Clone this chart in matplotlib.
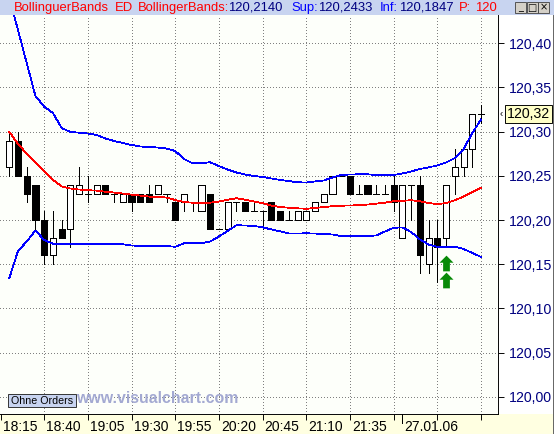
import matplotlib
matplotlib.use('Agg')
import matplotlib.pyplot as plt
from matplotlib.path import Path
from matplotlib.patches import Rectangle
import matplotlib.transforms as mtransforms

plt.rcParams['font.family'] = ['Liberation Sans', 'DejaVu Sans']

W, H = 554, 434

# ---------------- data ----------------
bar_index = list(range(1, 56))
opens = [120.26, 120.29, 120.25, 120.24, 120.20, 120.16, 120.19, 120.19, 120.23, 120.23,
         120.23, 120.24, 120.23, 120.22, 120.23, 120.23, 120.23, 120.23, 120.23, 120.22,
         120.22, 120.22, 120.21, 120.23, 120.19, 120.19, 120.22, 120.22, 120.21, 120.21,
         120.22, 120.21, 120.20, 120.20, 120.20, 120.21, 120.22, 120.23, 120.25, 120.25,
         120.23, 120.24, 120.23, 120.23, 120.24, 120.18, 120.24, 120.24, 120.15, 120.18,
         120.18, 120.25, 120.26, 120.28, 120.32]
highs = [120.30, 120.30, 120.26, 120.24, 120.21, 120.21, 120.20, 120.24, 120.26, 120.25,
         120.24, 120.24, 120.23, 120.23, 120.23, 120.23, 120.24, 120.24, 120.23, 120.22,
         120.23, 120.22, 120.24, 120.23, 120.19, 120.22, 120.22, 120.22, 120.22, 120.21,
         120.22, 120.21, 120.21, 120.21, 120.21, 120.22, 120.23, 120.25, 120.25, 120.25,
         120.24, 120.24, 120.24, 120.24, 120.25, 120.24, 120.24, 120.25, 120.20, 120.20,
         120.24, 120.28, 120.28, 120.32, 120.33]
lows = [120.25, 120.25, 120.22, 120.19, 120.15, 120.15, 120.18, 120.17, 120.23, 120.22,
        120.23, 120.23, 120.22, 120.22, 120.21, 120.22, 120.22, 120.23, 120.22, 120.20,
        120.21, 120.21, 120.21, 120.19, 120.19, 120.19, 120.21, 120.21, 120.21, 120.19,
        120.20, 120.20, 120.20, 120.20, 120.20, 120.21, 120.22, 120.23, 120.25, 120.23,
        120.23, 120.23, 120.23, 120.23, 120.21, 120.18, 120.20, 120.14, 120.14, 120.13,
        120.17, 120.23, 120.25, 120.26, 120.31]
closes = [120.29, 120.25, 120.23, 120.20, 120.16, 120.18, 120.18, 120.24, 120.24, 120.23,
          120.24, 120.23, 120.23, 120.23, 120.22, 120.22, 120.22, 120.24, 120.23, 120.20,
          120.23, 120.22, 120.24, 120.19, 120.19, 120.22, 120.22, 120.21, 120.21, 120.21,
          120.20, 120.20, 120.20, 120.21, 120.21, 120.22, 120.23, 120.25, 120.25, 120.23,
          120.23, 120.23, 120.23, 120.23, 120.22, 120.24, 120.24, 120.16, 120.18, 120.17,
          120.24, 120.26, 120.28, 120.32, 120.32]

upper_band = [120.4524, 120.4150, 120.3777, 120.3404, 120.3283, 120.3212, 120.3042, 120.2997,
              120.2989, 120.2980, 120.2963, 120.2923, 120.2895, 120.2872, 120.2850, 120.2833,
              120.2827, 120.2821, 120.2810, 120.2782, 120.2691, 120.2643, 120.2646, 120.2654,
              120.2612, 120.2572, 120.2538, 120.2516, 120.2499, 120.2488, 120.2471, 120.2454,
              120.2442, 120.2428, 120.2425, 120.2437, 120.2448, 120.2482, 120.2510, 120.2516,
              120.2518, 120.2518, 120.2510, 120.2510, 120.2510, 120.2527, 120.2550, 120.2578,
              120.2597, 120.2618, 120.2652, 120.2702, 120.2804, 120.2985, 120.3138]
middle_band = [120.3000, 120.2861, 120.2753, 120.2657, 120.2555, 120.2457, 120.2380, 120.2357,
               120.2346, 120.2338, 120.2334, 120.2321, 120.2312, 120.2301, 120.2288, 120.2277,
               120.2266, 120.2261, 120.2256, 120.2227, 120.2205, 120.2197, 120.2197, 120.2197,
               120.2210, 120.2231, 120.2247, 120.2231, 120.2210, 120.2191, 120.2165, 120.2148,
               120.2140, 120.2133, 120.2128, 120.2137, 120.2148, 120.2157, 120.2163, 120.2165,
               120.2169, 120.2176, 120.2186, 120.2197, 120.2214, 120.2218, 120.2225, 120.2213,
               120.2193, 120.2180, 120.2193, 120.2224, 120.2267, 120.2318, 120.2367]
lower_band = [120.1342, 120.1650, 120.1758, 120.1882, 120.1775, 120.1733, 120.1726, 120.1726,
              120.1726, 120.1726, 120.1726, 120.1726, 120.1726, 120.1726, 120.1713, 120.1707,
              120.1707, 120.1707, 120.1707, 120.1698, 120.1738, 120.1738, 120.1738, 120.1758,
              120.1815, 120.1877, 120.1942, 120.1939, 120.1933, 120.1919, 120.1894, 120.1874,
              120.1848, 120.1848, 120.1851, 120.1848, 120.1843, 120.1837, 120.1820, 120.1820,
              120.1820, 120.1820, 120.1826, 120.1871, 120.1914, 120.1916, 120.1865, 120.1781,
              120.1724, 120.1696, 120.1696, 120.1699, 120.1673, 120.1628, 120.1583]

signal_x = [51, 51]
signal_y = [120.1516, 120.1317]

y_ticks = [120.00, 120.05, 120.10, 120.15, 120.20, 120.25, 120.30, 120.35, 120.40]
x_tick_pos = [0, 5, 10, 15, 20, 25, 30, 35, 40, 45, 50, 55]
x_label_pos = [0, 5, 10, 15, 20, 25, 30, 35, 40, 46]
x_labels = ["18:15", "18:40", "19:05", "19:30", "19:55", "20:20", "20:45", "21:10", "21:35", "27.01.06"]
date_tick = 46

title_parts = [("BollinguerBands", "#FF0000", 14), ("ED", "#FF0000", 115),
               ("BollingerBands:", "#FF0000", 138), ("120,2140", "#000080", 228),
               ("Sup:", "#0000FF", 291), ("120,2433", "#000080", 318),
               ("Inf:", "#0000FF", 380), ("120,1847", "#000080", 399),
               ("P:", "#FF0000", 459), ("120,06", "#FF0000", 475)]

# ---------------- figure ----------------
fig = plt.figure(figsize=(W / 100, H / 100), dpi=100)
fig.patch.set_facecolor('white')

def fx(px):
    return px / W

def fy(py):
    return 1 - py / H

LW = 0.68   # ~1 px
BLW = 0.55  # band lines

ax_left, ax_right, ax_top, ax_bottom = 0, 498, 15, 414
ax = fig.add_axes([fx(ax_left), fy(ax_bottom), fx(ax_right - ax_left), (ax_bottom - ax_top) / H])
ax.set_facecolor('#FDFFFA')

px_per_bar = 8.737
x0 = 0.5
ax.set_xlim((ax_left - x0) / px_per_bar, (ax_right - x0) / px_per_bar)
ppu = 884.0
ax.set_ylim(120.30 - (ax_bottom - 131.7) / ppu, 120.30 + (131.7 - ax_top) / ppu)

# grid
grid_kw = dict(color='#808080', lw=LW, linestyle=(0, (1, 3)), zorder=0.5, antialiased=False)
for v in y_ticks:
    ax.axhline(v, **grid_kw)
for p in x_tick_pos[1:]:
    ax.axvline(p, **grid_kw)

# candles
bw = 0.70
for i, o, h, l, c in zip(bar_index, opens, highs, lows, closes):
    top = max(o, c)
    bot = min(o, c)
    if h > top:
        ax.vlines(i, top, h, color='black', lw=LW, zorder=2, antialiased=False)
    if l < bot:
        ax.vlines(i, l, bot, color='black', lw=LW, zorder=2, antialiased=False)
    if c == o:
        ax.hlines(c, i - bw / 2, i + bw / 2, color='black', lw=LW, zorder=2, antialiased=False)
    else:
        fc = 'white' if c > o else 'black'
        ax.add_patch(Rectangle((i - bw / 2, bot), bw, top - bot, facecolor=fc,
                               edgecolor='black', lw=LW, zorder=2, antialiased=False))

# bands
ax.plot(bar_index, upper_band, color='#0000FF', lw=BLW, zorder=3, antialiased=False)
ax.plot(bar_index, lower_band, color='#0000FF', lw=BLW, zorder=3, antialiased=False)
ax.plot(bar_index, middle_band, color='#FF0000', lw=BLW, zorder=3, antialiased=False)

# signal arrows
arrow_verts = [(0, 0.5), (0.445, 0.05), (0.215, 0.05), (0.215, -0.5), (-0.215, -0.5),
               (-0.215, 0.05), (-0.445, 0.05), (0, 0.5)]
arrow = Path(arrow_verts, [Path.MOVETO] + [Path.LINETO] * 6 + [Path.CLOSEPOLY])
ax.plot(signal_x, signal_y, linestyle='none', marker=arrow, markersize=11.3,
        color='#088A08', markeredgewidth=0, zorder=4)

# axes styling
for s in ['top', 'left']:
    ax.spines[s].set_visible(False)
ax.spines['right'].set_color('black')
ax.spines['right'].set_linewidth(LW)
ax.spines['bottom'].set_color('black')
ax.spines['bottom'].set_linewidth(LW)

ax.yaxis.tick_right()
ax.set_yticks(y_ticks)
ax.set_yticklabels([f"{v:.2f}".replace('.', ',') for v in y_ticks])
ax.tick_params(axis='y', direction='out', length=4, width=LW, colors='black',
               labelcolor='#000080', labelsize=10.2, pad=4)

ax.set_xticks(x_tick_pos)
ax.set_xticklabels([''] * len(x_tick_pos))
ax.tick_params(axis='x', direction='out', length=4.5, width=LW, colors='black')

blend = mtransforms.blended_transform_factory(ax.transData, fig.transFigure)
ax.plot([date_tick, date_tick], [fy(ax_bottom), fy(ax_bottom + 9)], color='black', lw=LW,
        transform=blend, clip_on=False, antialiased=False)
for p, lab in zip(x_label_pos, x_labels):
    ax.text(p + 2 / px_per_bar, fy(420), lab, transform=blend, ha='left', va='top',
            fontsize=10, color='black', clip_on=False)

# last price label
ytrans = mtransforms.blended_transform_factory(fig.transFigure, ax.transData)
ax.text(fx(507), closes[-1], f"{closes[-1]:.2f}".replace('.', ','), transform=ytrans,
        ha='left', va='center', fontsize=10.2, color='black', clip_on=False, zorder=10,
        bbox=dict(boxstyle='square,pad=0.12', fc='#FFFFC8', ec='black', lw=LW))
ax.text(fx(500), closes[-1], '\u2039', transform=ytrans, ha='left', va='center',
        fontsize=7, color='black', clip_on=False)

# bottom strip
fig.add_artist(Rectangle((0, 0), 1, (H - ax_bottom) / H, transform=fig.transFigure,
                         facecolor='#FFFFE1', edgecolor='none', zorder=-5))
# right border
fig.add_artist(plt.Line2D([fx(552.5), fx(552.5)], [0, fy(15)], transform=fig.transFigure,
                          color='#606060', lw=LW))

# title bar
fig.add_artist(Rectangle((0, fy(15)), 1, 15 / H, transform=fig.transFigure,
                         facecolor='#C8D4F0', edgecolor='none', zorder=1))
for txt, col, xp in title_parts:
    fig.text(fx(xp), fy(7.6), txt, color=col, fontsize=9.4, ha='left', va='center', zorder=2)
fig.add_artist(Rectangle((fx(498), fy(15)), fx(56), 15 / H, transform=fig.transFigure,
                         facecolor='#C8D4F0', edgecolor='none', zorder=3))
for bx, glyph in [(515, '_'), (526.5, '\u25a1'), (538, '\u00d7')]:
    fig.add_artist(Rectangle((fx(bx), fy(13)), fx(11), 11 / H, transform=fig.transFigure,
                             facecolor='#D4D0C8', edgecolor='#404040', lw=0.6, zorder=4))
    fig.text(fx(bx + 5.5), fy(7.5), glyph, fontsize=7, ha='center', va='center',
             color='black', zorder=5, family='DejaVu Sans')

# watermark and order box
fig.text(fx(76), fy(398.5), "www.visualchart.com", fontsize=11.4, fontweight='bold',
         color='#A3A9D2', ha='left', va='center', zorder=5)
fig.add_artist(Rectangle((fx(8), fy(407)), fx(68), 13 / H, transform=fig.transFigure,
                         facecolor='#C8D4F0', edgecolor='#303030', lw=LW, zorder=6))
fig.text(fx(42), fy(400.5), "Ohne Orders", fontsize=7.7, color='black', ha='center',
         va='center', zorder=7)

fig.savefig('out.png', dpi=100)
